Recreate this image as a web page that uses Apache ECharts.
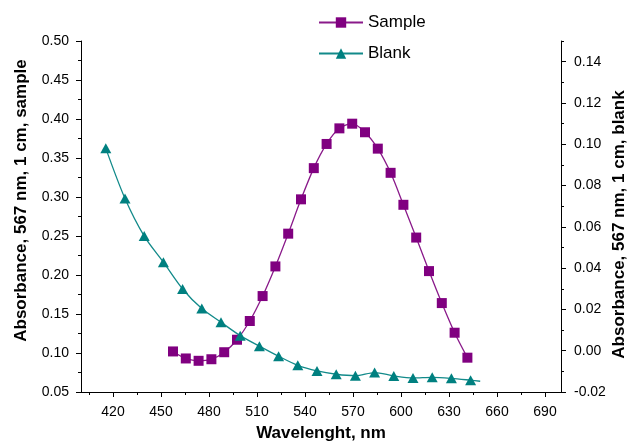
<!DOCTYPE html>
<html>
<head>
<meta charset="utf-8">
<script src="https://cdn.jsdelivr.net/npm/echarts@6/dist/echarts.min.js"></script>
<style>
  html, body { margin: 0; padding: 0; background: #fff; }
  #chart { width: 628px; height: 444px; }
</style>
</head>
<body>
<div id="chart"></div>
<script>
// sample spectrum (left axis)
var sampleX = [457.5, 465.5, 473.5, 481.5, 489.5, 497.5, 505.5, 513.5, 521.5, 529.5, 537.5, 545.5,
               553.5, 561.5, 569.5, 577.5, 585.5, 593.5, 601.5, 609.5, 617.5, 625.5, 633.5, 641.5];
var sampleY = [0.102, 0.093, 0.090, 0.092, 0.101, 0.117, 0.141, 0.173, 0.211, 0.253, 0.297, 0.337,
               0.368, 0.388, 0.394, 0.383, 0.362, 0.331, 0.290, 0.248, 0.205, 0.164, 0.126, 0.094];
// blank spectrum (right axis)
var blankX = [415.5, 427.5, 439.5, 451.5, 463.5, 475.5, 487.5, 499.5, 511.5, 523.5,
              535.5, 547.5, 559.5, 571.5, 583.5, 595.5, 607.5, 619.5, 631.5, 643.5];
var blankY = [0.098, 0.0737, 0.0555, 0.0429, 0.0299, 0.0204, 0.0138, 0.0073, 0.0022, -0.0027,
              -0.0071, -0.0098, -0.0114, -0.0121, -0.0106, -0.0122, -0.0132, -0.0129, -0.0134, -0.0143];
// tail of the fitted curve past the last marker
var blankTail = [649.5, -0.0148];

var xTicks = [420, 450, 480, 510, 540, 570, 600, 630, 660, 690];
var xMinor = [405, 435, 465, 495, 525, 555, 585, 615, 645, 675];
var leftTicks = [0.05, 0.10, 0.15, 0.20, 0.25, 0.30, 0.35, 0.40, 0.45, 0.50];
var leftMinor = [0.075, 0.125, 0.175, 0.225, 0.275, 0.325, 0.375, 0.425, 0.475];
var rightTicks = [-0.02, 0.00, 0.02, 0.04, 0.06, 0.08, 0.10, 0.12, 0.14];
var rightMinor = [-0.01, 0.01, 0.03, 0.05, 0.07, 0.09, 0.11, 0.13, 0.15];

var FONT = 'Liberation Sans';
var txt = { color: '#000', fontFamily: FONT, fontSize: 14 };
var axLine = { show: true, onZero: false, lineStyle: { color: '#000', width: 1 } };
var noLine = { show: false, onZero: false };

function nameStyle(pad) {
  return { color: '#000', fontFamily: FONT, fontSize: 17, fontWeight: 'bold', padding: pad };
}

function pairs(xs, ys) {
  return xs.map(function (x, i) { return [x, ys[i]]; });
}

var blankData = pairs(blankX, blankY);
blankData.push({ value: blankTail, symbol: 'none' });

var chart = echarts.init(document.getElementById('chart'), null, { renderer: 'canvas' });

var option = {
  backgroundColor: '#fff',
  animation: false,
  grid: { left: 81, right: 67, top: 41, bottom: 52, outerBoundsMode: 'none' },
  legend: {
    data: ['Sample', 'Blank'],
    orient: 'vertical',
    left: 313,
    top: 9,
    itemWidth: 44,
    itemHeight: 13,
    itemGap: 14,
    textStyle: { color: '#000', fontFamily: FONT, fontSize: 17 }
  },
  xAxis: [{
    type: 'value',
    min: 400, max: 700,
    name: 'Wavelenght, nm',
    nameLocation: 'middle',
    nameGap: 33,
    nameMoveOverlap: false,
    nameTextStyle: nameStyle(0),
    axisLine: axLine,
    splitLine: { show: false },
    axisTick: { show: true, length: 5, customValues: xTicks, lineStyle: { color: '#000' } },
    axisLabel: Object.assign({ margin: 13, customValues: xTicks }, txt)
  }, {
    // minor ticks only
    type: 'value',
    min: 400, max: 700,
    position: 'bottom',
    axisLine: noLine,
    splitLine: { show: false },
    axisLabel: { show: false },
    axisTick: { show: true, length: 3, customValues: xMinor, lineStyle: { color: '#000' } }
  }],
  yAxis: [{
    type: 'value',
    position: 'left',
    min: 0.05, max: 0.50,
    name: 'Absorbance, 567 nm, 1 cm, sample',
    nameLocation: 'middle',
    nameRotate: 90,
    nameGap: 51,
    nameMoveOverlap: false,
    nameTextStyle: nameStyle([0, 0, 0, 32]),
    axisLine: axLine,
    splitLine: { show: false },
    axisTick: { show: true, length: 5, customValues: leftTicks, lineStyle: { color: '#000' } },
    axisLabel: Object.assign({ margin: 12, customValues: leftTicks,
      formatter: function (v) { return v.toFixed(2); } }, txt)
  }, {
    type: 'value',
    position: 'right',
    min: -0.02, max: 0.15,
    name: 'Absorbance, 567 nm, 1 cm, blank',
    nameLocation: 'middle',
    nameRotate: 90,
    nameGap: 50,
    nameMoveOverlap: false,
    nameTextStyle: nameStyle([0, 16, 0, 0]),
    axisLine: axLine,
    splitLine: { show: false },
    axisTick: { show: true, length: 5, customValues: rightTicks, lineStyle: { color: '#000' } },
    axisLabel: Object.assign({ margin: 13, customValues: rightTicks,
      formatter: function (v) { return v.toFixed(2); } }, txt)
  }, {
    type: 'value',
    position: 'left',
    min: 0.05, max: 0.50,
    axisLine: noLine,
    splitLine: { show: false },
    axisLabel: { show: false },
    axisTick: { show: true, length: 3, customValues: leftMinor, lineStyle: { color: '#000' } }
  }, {
    type: 'value',
    position: 'right',
    min: -0.02, max: 0.15,
    axisLine: noLine,
    splitLine: { show: false },
    axisLabel: { show: false },
    axisTick: { show: true, length: 3, customValues: rightMinor, lineStyle: { color: '#000' } }
  }],
  series: [{
    name: 'Sample',
    type: 'line',
    xAxisIndex: 0,
    yAxisIndex: 0,
    smooth: 0.3,
    symbol: 'rect',
    symbolSize: 10,
    color: '#800080',
    lineStyle: { width: 1.3, color: '#8a1a8a' },
    itemStyle: { color: '#800080' },
    data: pairs(sampleX, sampleY)
  }, {
    name: 'Blank',
    type: 'line',
    xAxisIndex: 0,
    yAxisIndex: 1,
    smooth: 0.3,
    symbol: 'triangle',
    symbolSize: [11, 10],
    color: '#008080',
    lineStyle: { width: 1.3, color: '#128a8a' },
    itemStyle: { color: '#008080' },
    data: blankData
  }]
};

chart.setOption(option);
</script>
</body>
</html>
